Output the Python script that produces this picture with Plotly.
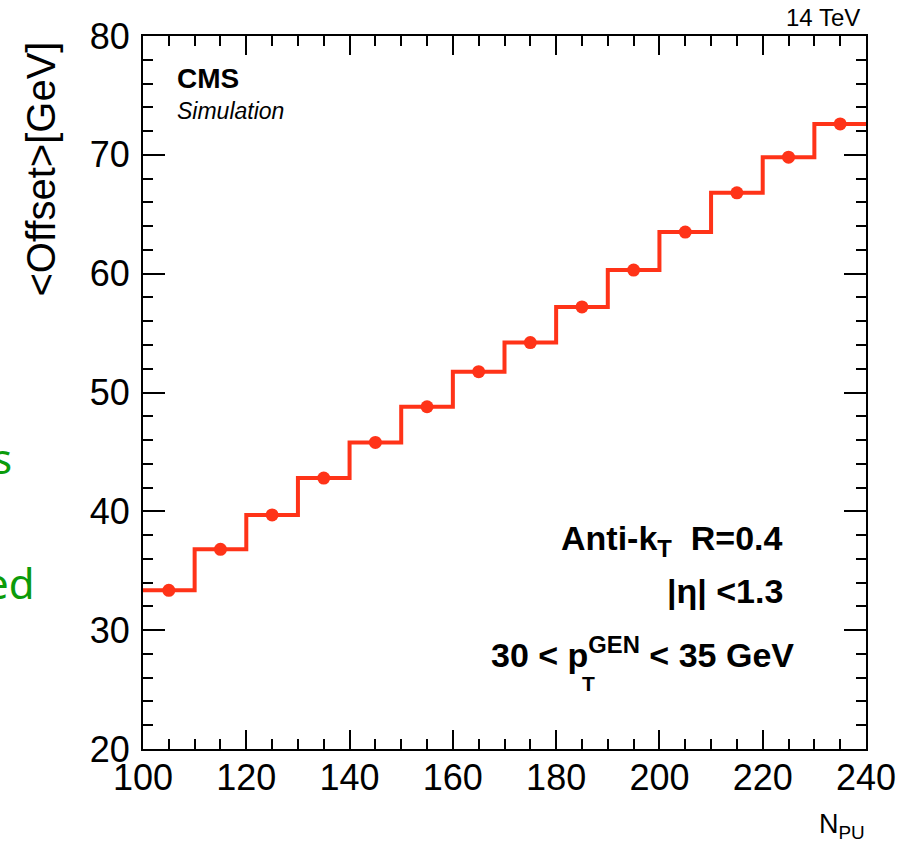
import plotly.graph_objects as go

# Data
bin_edges = [100, 110, 120, 130, 140, 150, 160, 170, 180, 190, 200, 210, 220, 230, 240]
bin_centers = [105, 115, 125, 135, 145, 155, 165, 175, 185, 195, 205, 215, 225, 235]
offset_gev = [33.35, 36.8, 39.7, 42.8, 45.8, 48.8, 51.75, 54.2, 57.2, 60.3, 63.5, 66.8, 69.8, 72.6]

x_ticks = [100, 120, 140, 160, 180, 200, 220, 240]
y_ticks = [20, 30, 40, 50, 60, 70, 80]

RED = "#ff3318"
FONT = "Liberation Sans, Arial, Helvetica, sans-serif"

# plot-area pixel geometry (for annotation placement)
L, R, T, B = 143, 866, 36, 749
W, H = R - L, B - T
def px(xp):
    return (xp - L) / W
def py(yp):
    return (B - yp) / H

fig = go.Figure()

# step histogram
fig.add_trace(go.Scatter(
    x=bin_edges,
    y=offset_gev + [offset_gev[-1]],
    mode="lines",
    line=dict(shape="hv", color=RED, width=4),
    hoverinfo="skip",
    showlegend=False,
))
# points at bin centres
fig.add_trace(go.Scatter(
    x=bin_centers,
    y=offset_gev,
    mode="markers",
    marker=dict(color=RED, size=13, symbol="circle"),
    showlegend=False,
))

axis_common = dict(
    showgrid=False, zeroline=False,
    showline=True, linecolor="black", linewidth=2,
    mirror="ticks", ticks="inside", tickcolor="black", tickwidth=2,
    tickfont=dict(family=FONT, size=36, color="black"),
)

fig.update_xaxes(
    range=[100, 240], tickmode="array", tickvals=x_ticks,
    ticklen=19, ticklabelstandoff=-4,
    minor=dict(dtick=5, ticklen=10, ticks="inside", tickcolor="black", tickwidth=2, showgrid=False),
    **axis_common,
)
fig.update_yaxes(
    range=[20, 80], tickmode="array", tickvals=y_ticks,
    ticklen=22, ticklabelstandoff=4,
    minor=dict(dtick=2, ticklen=10, ticks="inside", tickcolor="black", tickwidth=2, showgrid=False),
    **axis_common,
)

ann = []
# y-axis title (ROOT style, aligned to top)
ann.append(dict(x=px(40), y=py(40), xref="paper", yref="paper", text="&lt;Offset&gt;[GeV]",
                textangle=-90, xanchor="center", yanchor="top", showarrow=False,
                font=dict(family=FONT, size=40, color="black")))
# x-axis title
ann.append(dict(x=px(867), y=py(826), xref="paper", yref="paper", text="N<sub>PU</sub>",
                xanchor="right", yanchor="middle", showarrow=False,
                font=dict(family=FONT, size=27, color="black")))
# 14 TeV
ann.append(dict(x=px(862), y=py(18), xref="paper", yref="paper", text="14 TeV",
                xanchor="right", yanchor="middle", showarrow=False,
                font=dict(family=FONT, size=24, color="black")))
# CMS / Simulation
ann.append(dict(x=px(175), y=py(79), xref="paper", yref="paper", text="<b>CMS</b>",
                xanchor="left", yanchor="middle", showarrow=False,
                font=dict(family=FONT, size=28, color="black")))
ann.append(dict(x=px(175), y=py(111), xref="paper", yref="paper", text="<i>Simulation</i>",
                xanchor="left", yanchor="middle", showarrow=False,
                font=dict(family=FONT, size=23, color="black")))
# physics labels
ann.append(dict(x=px(785), y=py(540), xref="paper", yref="paper",
                text="<b>Anti-k<sub>T</sub>  R=0.4</b>",
                xanchor="right", yanchor="middle", showarrow=False,
                font=dict(family=FONT, size=34, color="black")))
ann.append(dict(x=px(785), y=py(591), xref="paper", yref="paper",
                text="<b>|η| &lt;1.3</b>",
                xanchor="right", yanchor="middle", showarrow=False,
                font=dict(family=FONT, size=34, color="black")))
ann.append(dict(x=px(796), y=py(652), xref="paper", yref="paper",
                text="<b>30 &lt; p<sup>GEN</sup> &lt; 35 GeV</b>",
                xanchor="right", yanchor="middle", showarrow=False,
                font=dict(family=FONT, size=34, color="black")))
ann.append(dict(x=px(588), y=py(683), xref="paper", yref="paper",
                text="<b>T</b>",
                xanchor="center", yanchor="middle", showarrow=False,
                font=dict(family=FONT, size=21, color="black")))
# cut-off slide text on the left
ann.append(dict(x=px(14), y=py(458), xref="paper", yref="paper", text="s",
                xanchor="right", yanchor="middle", showarrow=False,
                font=dict(family="Noto Sans, sans-serif", size=42, color="#0b9b0b")))
ann.append(dict(x=px(37), y=py(582), xref="paper", yref="paper", text="ed",
                xanchor="right", yanchor="middle", showarrow=False,
                font=dict(family="Noto Sans, sans-serif", size=42, color="#0b9b0b")))

fig.update_layout(
    width=912, height=843,
    margin=dict(l=L, r=912 - R, t=T, b=843 - B),
    plot_bgcolor="white", paper_bgcolor="white",
    annotations=ann,
    showlegend=False,
)

fig.write_html("out.html")
